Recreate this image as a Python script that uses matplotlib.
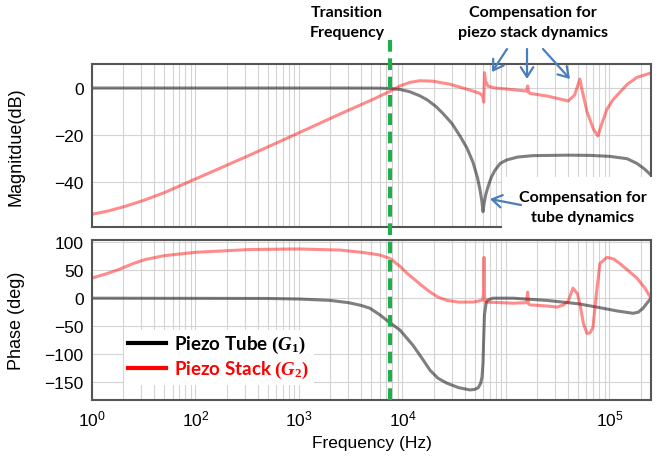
"""Bode plot: piezo tube vs piezo stack compensation (magnitude + phase)."""

import matplotlib

matplotlib.use("Agg")

import matplotlib.pyplot as plt  # noqa: E402
import matplotlib.transforms as mtransforms  # noqa: E402
import numpy as np  # noqa: E402
from matplotlib.lines import Line2D  # noqa: E402
from matplotlib.patches import FancyArrowPatch, Rectangle  # noqa: E402
from matplotlib.ticker import LogLocator, NullFormatter  # noqa: E402

# ---------------------------------------------------------------------------
# Data
# ---------------------------------------------------------------------------
TUBE_MAG_HZ = [10, 3000, 6000, 7570, 9460, 11800, 14700, 17300, 21000, 24600,
               30000, 36000, 42000, 48000, 53000, 56000, 58500, 60000, 61500,
               64000, 67000, 72000, 78000, 88000, 102000, 130000, 182000,
               400000, 650000, 1000000, 1480000, 1840000, 2200000, 2520000]
TUBE_MAG_DB = [0, 0, -0.05, -0.2, -0.6, -1.6, -3.3, -5.0, -7.8, -10.8,
               -15, -20.4, -25.5, -31.5, -38, -43, -48, -52.5, -49,
               -45, -42, -38, -35, -32, -30.5, -29.3, -28.7,
               -28.5, -28.6, -29, -30, -32, -34.5, -37]

STACK_MAG_HZ = [10, 14, 20, 32, 50, 100, 330, 1000, 2500, 4850, 7570, 9460,
                11800, 14700, 19700, 28800, 45000, 56000, 59500, 61000, 62000,
                63500, 67000, 78000, 100000, 158000, 162000, 166000, 171000,
                250000, 400000, 460000, 518000, 545000, 606000, 700000, 774000,
                830000, 946000, 1080000, 1480000, 1840000, 2520000]
STACK_MAG_DB = [-53.6, -52.3, -50.5, -47.6, -44.4, -38.6, -28.6, -19.0, -11.0,
                -5.4, -1.4, 0.9, 2.4, 3.1, 2.9, 1.6, -0.9, -2.3, -3.5, -6.0,
                6.5, 3.0, 0.8, 0.0, -0.4, -1.3, 0.9, -1.9, -2.3, -3.4, -5.5,
                -3.0, 3.8, -1.0, -10.0, -17.5, -20.4, -16.0, -9.0, -5.0, 1.5,
                4.5, 6.4]

TUBE_PH_HZ = [10, 500, 1000, 2000, 3000, 4000, 4850, 6070, 7570, 9460, 12600,
              15000, 18500, 22000, 26900, 35000, 44900, 50000, 54000, 57000,
              58700, 60000, 61000, 62000, 64200, 67000, 74800, 117000, 249000,
              500000, 757000, 1200000, 1690000, 1900000, 2110000, 2300000,
              2520000]
TUBE_PH_DEG = [0, -0.5, -1.5, -4, -8, -13, -18, -30, -44, -57, -84,
               -104, -129, -143, -152, -160, -164, -163, -160, -152,
               -141, -115, -70, -30, -9, -3, 0, 0, -4,
               -10, -16, -23, -27, -25, -18, -9,
               0]

STACK_PH_HZ = [10, 14, 18.6, 25, 32.5, 50, 100, 336, 1000, 2490, 4000, 4850,
               6070, 7570, 9460, 11000, 12600, 15000, 18500, 22000, 26900,
               35000, 48000, 55000, 59500, 60800, 61400, 61900, 62700, 64200,
               90000, 117000, 158000, 162000, 165000, 171000, 250000, 311000,
               360000, 400000, 444000, 490000, 518000, 560000, 606000, 650000,
               693000, 750000, 809000, 946000, 1100000, 1260000, 1500000,
               1840000, 2200000, 2520000]
STACK_PH_DEG = [36, 44, 52, 62, 69, 76, 82, 87, 88, 86, 82, 80,
                77, 71, 57, 45, 36, 24, 11, 2, -4,
                -7, -7, -5, -3, 10, 73, 10, -5, -7,
                -8, -9, -8, 11, -10, -12, -14, -16,
                -12, -5, 18, 8, -10, -45, -63, -62,
                -52, 10, 62, 73, 70, 62, 50,
                36, 18, 0]

TRANSITION_HZ = 7570

X_TICKS = [10, 1e2, 1e3, 1e4, 1e5, 1e6]
X_TICK_LABELS = [r"$\mathsf{10^{0}}$", r"$\mathsf{10^{2}}$", r"$\mathsf{10^{3}}$",
                 r"$\mathsf{10^{4}}$", "", r"$\mathsf{10^{5}}$"]
MAG_TICKS = [0, -20, -40]
PH_TICKS = [100, 50, 0, -50, -100, -150]

LEGEND_LABELS = [r"Piezo Tube $(G_1)$", r"Piezo Stack $(G_2)$"]

# ---------------------------------------------------------------------------
# Style
# ---------------------------------------------------------------------------
W, H = 659, 464
SPINE = "#555555"
GRID = "#d4d4d4"
GREEN = "#1fae4b"
ARROW = "#4a7ebb"
NOTE_FONT = dict(family="Lato", weight="bold", size=11.5, linespacing=1.55)

plt.rcParams["font.family"] = ["Liberation Sans", "DejaVu Sans"]
plt.rcParams["mathtext.fontset"] = "custom"
plt.rcParams["mathtext.rm"] = "Liberation Serif:bold"
plt.rcParams["mathtext.it"] = "Liberation Serif:italic:bold"
plt.rcParams["mathtext.bf"] = "Liberation Serif:bold"
plt.rcParams["mathtext.sf"] = "Liberation Sans"


def px(x, y):
    """pixel position (top-left origin) -> figure fraction"""
    return x / W, 1 - y / H


def style_axes(ax, yticks, ylim):
    ax.set_xscale("log")
    ax.set_xlim(10, 2.52e6)
    ax.set_ylim(*ylim)
    ax.set_yticks(yticks)
    ax.set_xticks(X_TICKS)
    ax.xaxis.set_minor_locator(LogLocator(base=10, subs=np.arange(2, 10), numticks=30))
    ax.xaxis.set_minor_formatter(NullFormatter())
    ax.grid(True, which="both", axis="x", color=GRID, lw=0.8)
    ax.grid(True, which="major", axis="y", color=GRID, lw=0.8)
    ax.set_axisbelow(True)
    ax.tick_params(which="both", length=0, labelsize=12.5, pad=6)
    for s in ax.spines.values():
        s.set_color(SPINE)
        s.set_linewidth(1.5)


fig = plt.figure(figsize=(W / 100, H / 100), dpi=100)
ax_mag = fig.add_axes([92 / W, 1 - 228 / H, 559 / W, 163 / H])
ax_ph = fig.add_axes([92 / W, 1 - 401 / H, 559 / W, 160 / H])

# magnitude
style_axes(ax_mag, MAG_TICKS, (-59, 10.2))
ax_mag.plot(TUBE_MAG_HZ, TUBE_MAG_DB, color="black", alpha=0.5, lw=2.2)
ax_mag.plot(STACK_MAG_HZ, STACK_MAG_DB, color="red", alpha=0.45, lw=2.2)
ax_mag.set_xticklabels([])
ax_mag.set_ylabel("Magnitdue(dB)", fontsize=13)
ax_mag.yaxis.set_label_coords(-0.12, 0.5)

# phase
style_axes(ax_ph, PH_TICKS, (-182, 104))
ax_ph.plot(TUBE_PH_HZ, TUBE_PH_DEG, color="black", alpha=0.5, lw=2.2)
ax_ph.plot(STACK_PH_HZ, STACK_PH_DEG, color="red", alpha=0.45, lw=2.2)
ax_ph.set_xticklabels(X_TICK_LABELS)
ax_ph.set_ylabel("Phase (deg)", fontsize=13)
ax_ph.yaxis.set_label_coords(-0.12, 0.5)
ax_ph.set_xlabel("Frequency (Hz)", fontsize=12.5)
ax_ph.xaxis.set_label_coords(0.5, -0.22)

handles = [Line2D([], [], color="black", lw=3), Line2D([], [], color="red", lw=3)]
leg = ax_ph.legend(handles, LEGEND_LABELS, loc="lower left",
                   bbox_to_anchor=(0.04, 0.035),
                   prop=dict(family="Lato", weight="bold", size=13.5),
                   handlelength=2.0, handletextpad=0.45, labelspacing=0.2,
                   borderpad=0.25, frameon=True, fancybox=False, framealpha=1)
leg.get_frame().set_edgecolor("none")
leg.get_texts()[1].set_color("red")

# white box hiding the lower-right corner of the magnitude panel
fig.add_artist(Rectangle(px(502, 236), 157 / W, 58 / H, transform=fig.transFigure,
                         facecolor="white", edgecolor="none", zorder=5))

# transition frequency marker across both panels
trans = mtransforms.blended_transform_factory(ax_mag.transData, fig.transFigure)
fig.add_artist(Line2D([TRANSITION_HZ, TRANSITION_HZ], [1 - 401 / H, 1 - 40 / H],
                      transform=trans, color=GREEN, lw=3, dashes=(2.8, 1.6), zorder=6))

# annotations
fig.text(*px(347, 23), "Transition\nFrequency", ha="center", va="center", **NOTE_FONT)
fig.text(*px(533, 23), "Compensation for\npiezo stack dynamics", ha="center",
         va="center", **NOTE_FONT)
fig.text(*px(583, 208), "Compensation for\ntube dynamics", ha="center",
         va="center", zorder=7, **NOTE_FONT)

for tail, head in [((507, 50), (492, 73)), ((527, 50), (527, 80)),
                   ((543, 50), (570, 80)), ((521, 206), (490, 200))]:
    fig.add_artist(FancyArrowPatch(px(*tail), px(*head), transform=fig.transFigure,
                                   arrowstyle="->,head_length=0.5,head_width=0.32",
                                   mutation_scale=14, color=ARROW, lw=1.6,
                                   shrinkA=0, shrinkB=0, zorder=8))

fig.savefig("out.png", dpi=100)
